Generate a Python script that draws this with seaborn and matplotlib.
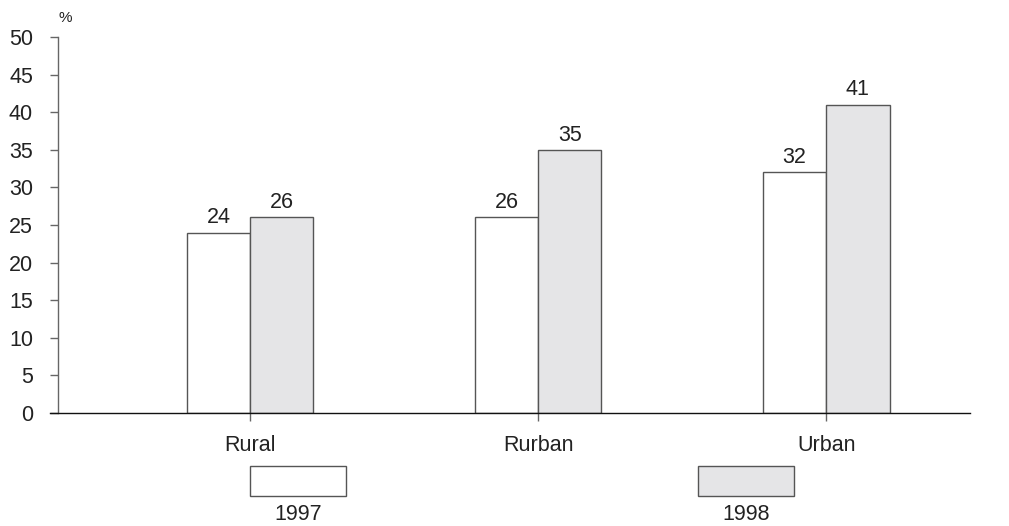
import matplotlib
matplotlib.use("Agg")
import matplotlib.pyplot as plt
import seaborn as sns
import pandas as pd
from matplotlib.patches import Rectangle

categories = ["Rural", "Rurban", "Urban"]
years = ["1997", "1998"]
values_1997 = [24, 26, 32]
values_1998 = [26, 35, 41]
y_ticks = [0, 5, 10, 15, 20, 25, 30, 35, 40, 45, 50]

df = pd.DataFrame({
    "area": categories * 2,
    "year": [years[0]] * 3 + [years[1]] * 3,
    "value": values_1997 + values_1998,
})

sns.set_theme(style="white")
plt.rcParams["font.family"] = ["Liberation Sans", "DejaVu Sans"]
text_color = "#222222"
edge_color = "#555555"
fills = {"1997": "#ffffff", "1998": "#e5e5e7"}
fs = 15.5

fig = plt.figure(figsize=(10.09, 5.26), dpi=100)
ax = fig.add_axes([0.0575, 0.2148, 0.904, 0.7149])

sns.barplot(data=df, x="area", y="value", hue="year", order=categories,
            hue_order=years, palette=fills, width=0.44, edgecolor=edge_color,
            linewidth=1.0, legend=False, ax=ax)

for container in ax.containers:
    ax.bar_label(container, fmt="%d", padding=3, fontsize=fs, color=text_color)

ax.set_xlim(-0.667, 2.5)
ax.set_ylim(0, 50)
ax.set_yticks(y_ticks)
ax.set_xlabel("")
ax.set_ylabel("")

for side in ("top", "right"):
    ax.spines[side].set_visible(False)
ax.spines["left"].set_color("#666666")
ax.spines["left"].set_linewidth(1.0)
ax.spines["bottom"].set_color("#111111")
ax.spines["bottom"].set_linewidth(1.0)
ax.spines["bottom"].set_bounds(-0.695, 2.5)

ax.tick_params(axis="y", direction="out", length=6, width=1, color="#666666",
               labelsize=fs, labelcolor=text_color, pad=12, left=True)
ax.tick_params(axis="x", direction="out", length=6, width=1, color="#666666",
               labelsize=fs, labelcolor=text_color, pad=10, bottom=True)

fig.text(0.0645, 0.965, "%", fontsize=11, color=text_color, ha="center", va="center")

# legend: swatch with its year written underneath
for x0, year in ((250, "1997"), (698, "1998")):
    fig.add_artist(Rectangle((x0 / 1009, 1 - 496 / 526), 96 / 1009, 30 / 526,
                             transform=fig.transFigure, facecolor=fills[year],
                             edgecolor=edge_color, linewidth=1.0))
    fig.text((x0 + 48) / 1009, 1 - 515 / 526, year, fontsize=fs,
             color=text_color, ha="center", va="center")

fig.savefig("out.png", dpi=100, facecolor="white")
